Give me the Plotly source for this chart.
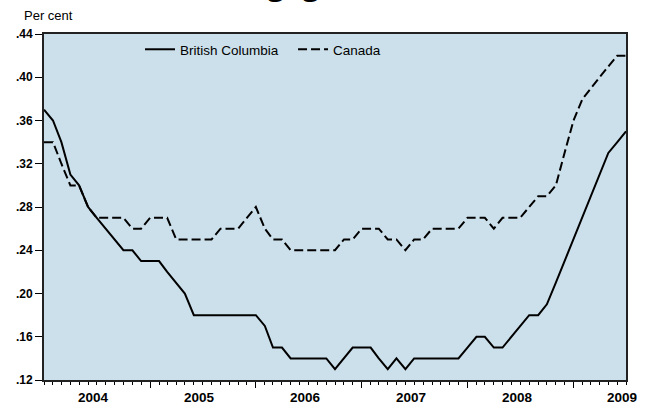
import pandas as pd
import plotly.graph_objects as go

# monthly observations, Jan 2004 - Jul 2009
months = pd.date_range("2004-01-01", "2009-07-01", freq="MS").strftime("%Y-%m-%d").tolist()

british_columbia = [
    0.37, 0.36, 0.34, 0.31, 0.30, 0.28, 0.27, 0.26, 0.25, 0.24, 0.24, 0.23,
    0.23, 0.23, 0.22, 0.21, 0.20, 0.18, 0.18, 0.18, 0.18, 0.18, 0.18, 0.18,
    0.18, 0.17, 0.15, 0.15, 0.14, 0.14, 0.14, 0.14, 0.14, 0.13, 0.14, 0.15,
    0.15, 0.15, 0.14, 0.13, 0.14, 0.13, 0.14, 0.14, 0.14, 0.14, 0.14, 0.14,
    0.15, 0.16, 0.16, 0.15, 0.15, 0.16, 0.17, 0.18, 0.18, 0.19, 0.21, 0.23,
    0.25, 0.27, 0.29, 0.31, 0.33, 0.34, 0.35,
]
canada = [
    0.34, 0.34, 0.32, 0.30, 0.30, 0.28, 0.27, 0.27, 0.27, 0.27, 0.26, 0.26,
    0.27, 0.27, 0.27, 0.25, 0.25, 0.25, 0.25, 0.25, 0.26, 0.26, 0.26, 0.27,
    0.28, 0.26, 0.25, 0.25, 0.24, 0.24, 0.24, 0.24, 0.24, 0.24, 0.25, 0.25,
    0.26, 0.26, 0.26, 0.25, 0.25, 0.24, 0.25, 0.25, 0.26, 0.26, 0.26, 0.26,
    0.27, 0.27, 0.27, 0.26, 0.27, 0.27, 0.27, 0.28, 0.29, 0.29, 0.30, 0.33,
    0.36, 0.38, 0.39, 0.40, 0.41, 0.42, 0.42,
]

y_ticks = [0.12, 0.16, 0.20, 0.24, 0.28, 0.32, 0.36, 0.40, 0.44]
y_labels = [".12", ".16", ".20", ".24", ".28", ".32", ".36", ".40", ".44"]
year_starts = ["2005-01-01", "2006-01-01", "2007-01-01", "2008-01-01", "2009-01-01"]
year_labels = ["2004", "2005", "2006", "2007", "2008", "2009"]
year_label_pos = ["2004-06-20", "2005-06-20", "2006-06-20", "2007-06-20", "2008-06-20", "2009-06-16"]

FONT = "Liberation Sans, Arial, sans-serif"
PLOT_W = 582  # plot area width in px, for placing paper-referenced text

fig = go.Figure()
fig.add_trace(go.Scatter(
    x=months, y=british_columbia, mode="lines", name="British Columbia",
    line=dict(color="black", width=2),
))
fig.add_trace(go.Scatter(
    x=months, y=canada, mode="lines", name="Canada",
    line=dict(color="black", width=2, dash="9px,4px"),
))

annotations = [
    dict(x=x, y=0, xref="x", yref="paper", text=f"<b>{t}</b>", showarrow=False,
         yanchor="middle", yshift=-17.5, borderpad=0,
         font=dict(family=FONT, size=13.5, color="black"))
    for x, t in zip(year_label_pos, year_labels)
]
annotations.append(dict(
    x=(23 - 44) / PLOT_W, y=1, xref="paper", yref="paper", text="Per cent", showarrow=False,
    xanchor="left", yanchor="middle", yshift=19, borderpad=0,
    font=dict(family=FONT, size=13, color="black"),
))
# title, mostly above the visible page (only descenders show)
annotations.append(dict(
    x=(324 - 44) / PLOT_W, y=1, xref="paper", yref="paper", text="<b>Mortgage Arrears</b>",
    showarrow=False, xanchor="center", yanchor="bottom", yshift=30,
    font=dict(family="Liberation Serif, Times New Roman, serif", size=35, color="black"),
))

fig.update_layout(
    width=650, height=406,
    margin=dict(l=44, r=24, t=34, b=26),
    paper_bgcolor="white",
    plot_bgcolor="#cce0eb",
    showlegend=True,
    legend=dict(
        orientation="h", x=0.165, y=1.0, xanchor="left", yanchor="top",
        bgcolor="rgba(0,0,0,0)", font=dict(family=FONT, size=13.5, color="black"),
        itemwidth=30, entrywidth=108,
    ),
    annotations=annotations,
    xaxis=dict(
        range=["2004-01-01", "2009-07-01"],
        tickvals=year_starts, showticklabels=False,
        ticks="outside", ticklen=6, tickcolor="black", tickwidth=1,
        minor=dict(dtick="M1", ticks="outside", ticklen=3, tickcolor="black", tickwidth=1),
        showgrid=False, zeroline=False,
        showline=True, linecolor="#222", linewidth=2, mirror=True,
    ),
    yaxis=dict(
        range=[0.12, 0.44], tickvals=y_ticks, ticktext=[f"<b>{t}</b>" for t in y_labels],
        ticks="outside", ticklen=7, tickcolor="black", tickwidth=1,
        tickfont=dict(family=FONT, size=12, color="black"),
        showgrid=False, zeroline=False,
        showline=True, linecolor="#222", linewidth=2, mirror=True,
    ),
)

fig.write_html(
    "out.html",
    config={"displayModeBar": False},
    post_script="document.body.style.margin='0';",
)
